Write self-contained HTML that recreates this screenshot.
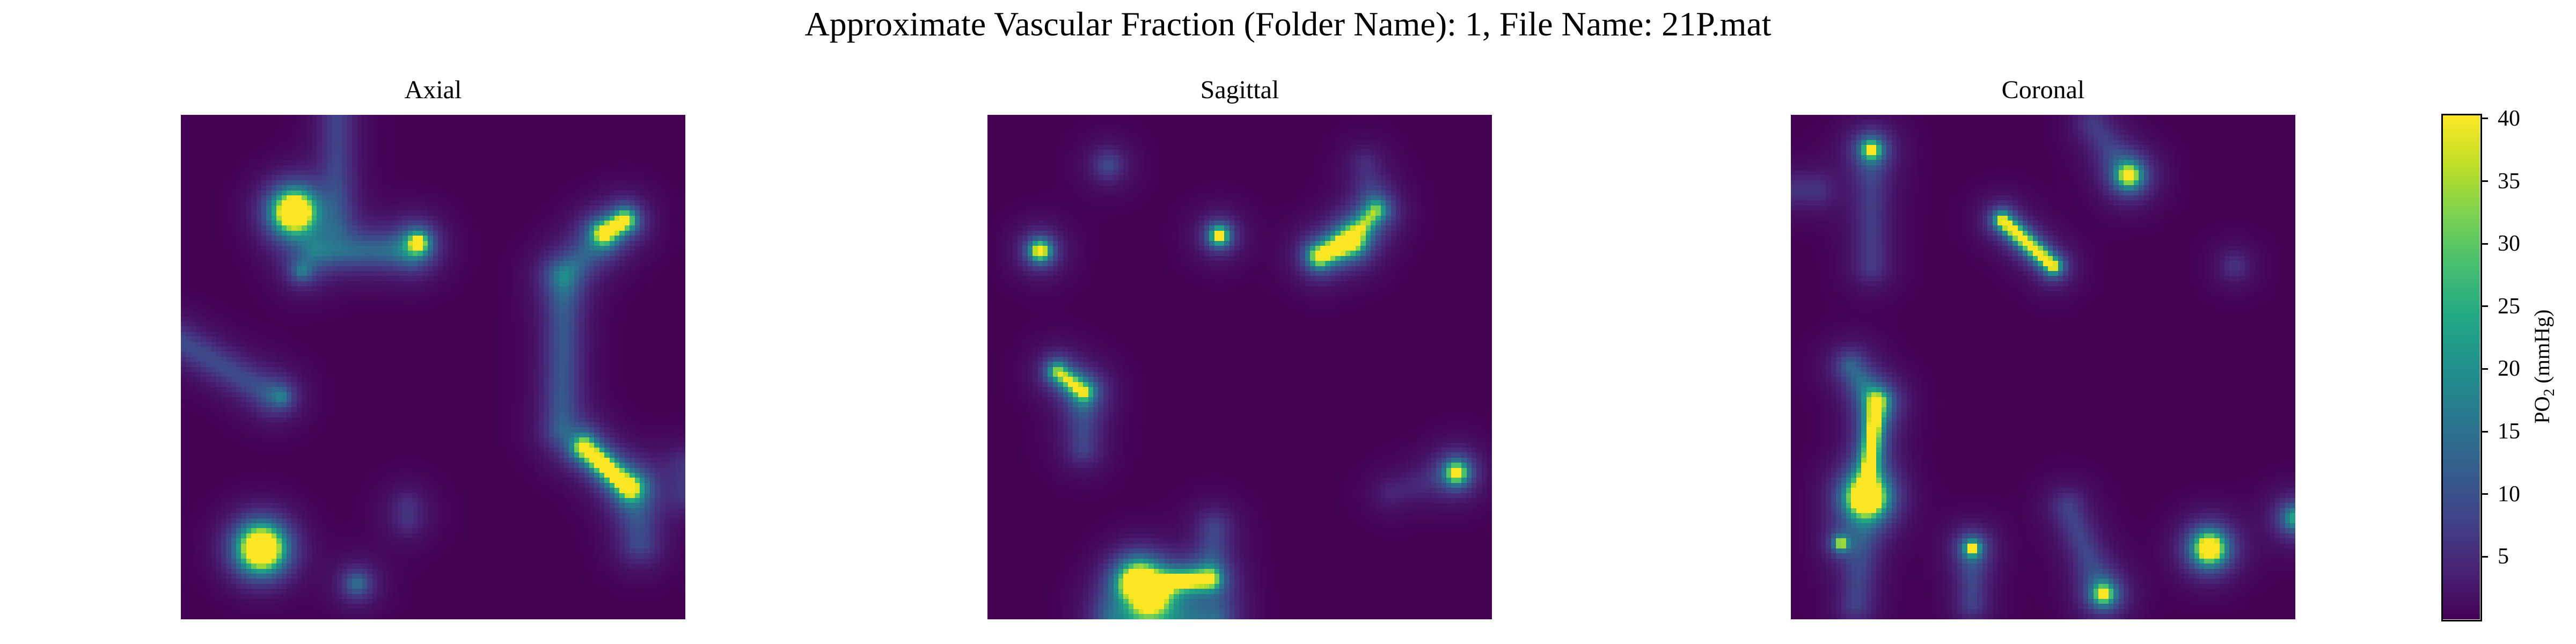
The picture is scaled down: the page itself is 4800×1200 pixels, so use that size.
<!DOCTYPE html>
<html><head><meta charset="utf-8"><style>
html,body{margin:0;padding:0;background:#fff;}
#root{position:relative;width:4800px;height:1200px;overflow:hidden;font-family:"Liberation Serif",serif;color:#000;}
.t{position:absolute;white-space:nowrap;}
canvas{position:absolute;image-rendering:pixelated;}
</style></head><body>
<div id="root">
<div class="t" style="left:0;width:4800px;text-align:center;top:8px;font-size:64px;">Approximate Vascular Fraction (Folder Name): 1, File Name: 21P.mat</div>
<div class="t" style="left:337px;width:940px;text-align:center;top:140px;font-size:48px;">Axial</div>
<div class="t" style="left:1840px;width:940px;text-align:center;top:140px;font-size:48px;">Sagittal</div>
<div class="t" style="left:3337px;width:940px;text-align:center;top:140px;font-size:48px;">Coronal</div>
<canvas id="c0" width="940" height="940" style="left:337px;top:214px;"></canvas>
<canvas id="c1" width="940" height="940" style="left:1840px;top:214px;"></canvas>
<canvas id="c2" width="940" height="940" style="left:3337px;top:214px;"></canvas>
<canvas id="cb" width="70" height="940" style="left:4551px;top:214px;"></canvas>
<div style="position:absolute;left:4549px;top:212px;width:70px;height:940px;border:3px solid #000;"></div>
<div id="ticks"></div>
<div class="t" style="left:4740px;top:683px;transform:translate(-50%,-50%) rotate(-90deg);font-size:40px;">PO<sub style="font-size:28px">2</sub> (mmHg)</div>
</div>
<script>
// colour scale
const vmin = 0, vmax = 40.3;
const tickValues = [5,10,15,20,25,30,35,40];
// vessels: [x1,y1,x2,y2,peak,width] fractional coords
const axialVessels = [
 [0.225,0.193,0.225,0.193,100,0.026],
 [0.27,0.27,0.45,0.27,13,0.035],
 [0.31,0.0,0.31,0.22,8,0.035],
 [0.47,0.255,0.47,0.255,60,0.014],
 [0.24,0.31,0.24,0.31,14,0.02],
 [0.84,0.235,0.88,0.21,60,0.015],
 [0.83,0.25,0.76,0.32,9,0.035],
 [0.76,0.32,0.755,0.62,11,0.035],
 [0.80,0.66,0.89,0.74,60,0.016],
 [0.90,0.74,0.91,0.85,9,0.04],
 [0.0,0.45,0.17,0.55,9,0.035],
 [0.2,0.56,0.2,0.56,14,0.02],
 [0.16,0.86,0.16,0.86,105,0.028],
 [0.35,0.93,0.35,0.93,15,0.025],
 [0.45,0.78,0.45,0.8,6,0.035],
 [1.0,0.7,1.0,0.75,6,0.04]
];
const sagittalVessels = [
 [0.105,0.27,0.105,0.27,60,0.014],
 [0.46,0.24,0.46,0.24,58,0.013],
 [0.24,0.10,0.24,0.10,9,0.03],
 [0.66,0.28,0.72,0.25,62,0.016],
 [0.72,0.25,0.77,0.19,30,0.018],
 [0.77,0.19,0.75,0.10,5,0.035],
 [0.14,0.51,0.19,0.55,38,0.016],
 [0.19,0.55,0.19,0.66,8,0.035],
 [0.93,0.71,0.93,0.71,60,0.014],
 [0.93,0.71,0.80,0.75,4,0.035],
 [0.30,0.93,0.32,0.95,100,0.025],
 [0.32,0.93,0.44,0.92,55,0.014],
 [0.44,0.92,0.45,0.82,8,0.035],
 [0.25,1.0,0.45,1.0,13,0.04]
];
const coronalVessels = [
 [0.16,0.07,0.16,0.07,55,0.012],
 [0.16,0.07,0.16,0.30,7,0.035],
 [0.67,0.12,0.67,0.12,60,0.015],
 [0.67,0.12,0.60,0.02,7,0.035],
 [0.42,0.21,0.52,0.30,50,0.013],
 [0.17,0.57,0.15,0.75,55,0.014],
 [0.15,0.76,0.15,0.76,90,0.022],
 [0.12,0.50,0.17,0.57,13,0.03],
 [0.10,0.85,0.10,0.85,45,0.01],
 [0.15,0.76,0.13,0.97,8,0.035],
 [0.36,0.86,0.36,0.86,50,0.01],
 [0.36,0.86,0.36,0.97,8,0.03],
 [0.62,0.95,0.62,0.95,55,0.013],
 [0.62,0.95,0.55,0.78,8,0.035],
 [0.83,0.86,0.83,0.86,85,0.02],
 [1.0,0.80,1.0,0.80,25,0.025],
 [0.88,0.30,0.88,0.30,6,0.03],
 [0.0,0.15,0.05,0.15,6,0.035]
];
const viridis=[[68,1,84],[72,35,116],[64,67,135],[52,94,141],[41,120,142],[32,144,140],[34,167,132],[68,190,112],[121,209,81],[189,222,38],[253,231,37]];
function cmap(v){let t=(v-vmin)/(vmax-vmin);t=Math.max(0,Math.min(1,t));const p=t*10,i=Math.min(9,Math.floor(p)),f=p-i;const a=viridis[i],b=viridis[i+1];return [0,1,2].map(k=>Math.round(a[k]+(b[k]-a[k])*f));}
function field(vs,x,y){let m=0;for(const v of vs){const [x1,y1,x2,y2,p,s]=v;const dx=x2-x1,dy=y2-y1;const L=dx*dx+dy*dy;let t=L?((x-x1)*dx+(y-y1)*dy)/L:0;t=Math.max(0,Math.min(1,t));const ex=x-(x1+t*dx),ey=y-(y1+t*dy);const d2=ex*ex+ey*ey;m+=p/(1+d2/(s*s))*Math.exp(-d2/(2*0.062*0.062));}return m;}
const N=100;
function draw(id,vs){const c=document.getElementById(id),g=c.getContext('2d');const cs=940/N;for(let j=0;j<N;j++)for(let i=0;i<N;i++){const v=field(vs,(i+0.5)/N,(j+0.5)/N);const col=cmap(v);g.fillStyle='rgb('+col.join(',')+')';g.fillRect(Math.floor(i*cs),Math.floor(j*cs),Math.ceil(cs)+1,Math.ceil(cs)+1);}}
draw('c0',axialVessels);draw('c1',sagittalVessels);draw('c2',coronalVessels);
const cb=document.getElementById('cb').getContext('2d');
for(let y=0;y<940;y++){const v=vmax-(y/940)*(vmax-vmin);cb.fillStyle='rgb('+cmap(v).join(',')+')';cb.fillRect(0,y,70,1);}
function yOf(v){return 214+(vmax-v)/(vmax-vmin)*940;}
const tk=document.getElementById('ticks');
for(const v of tickValues){
 const y=yOf(v);
 const l=document.createElement('div');
 
 
 l.style.cssText='position:absolute;left:4622px;top:'+(y-1.5)+'px;width:14px;height:3px;background:#000;';
 tk.appendChild(l);
 const t=document.createElement('div');
 
 
 t.className='t';t.style.cssText='left:4654px;top:'+(y-24)+'px;font-size:42px;';
 t.textContent=v;tk.appendChild(t);
}
</script>
</body></html>
